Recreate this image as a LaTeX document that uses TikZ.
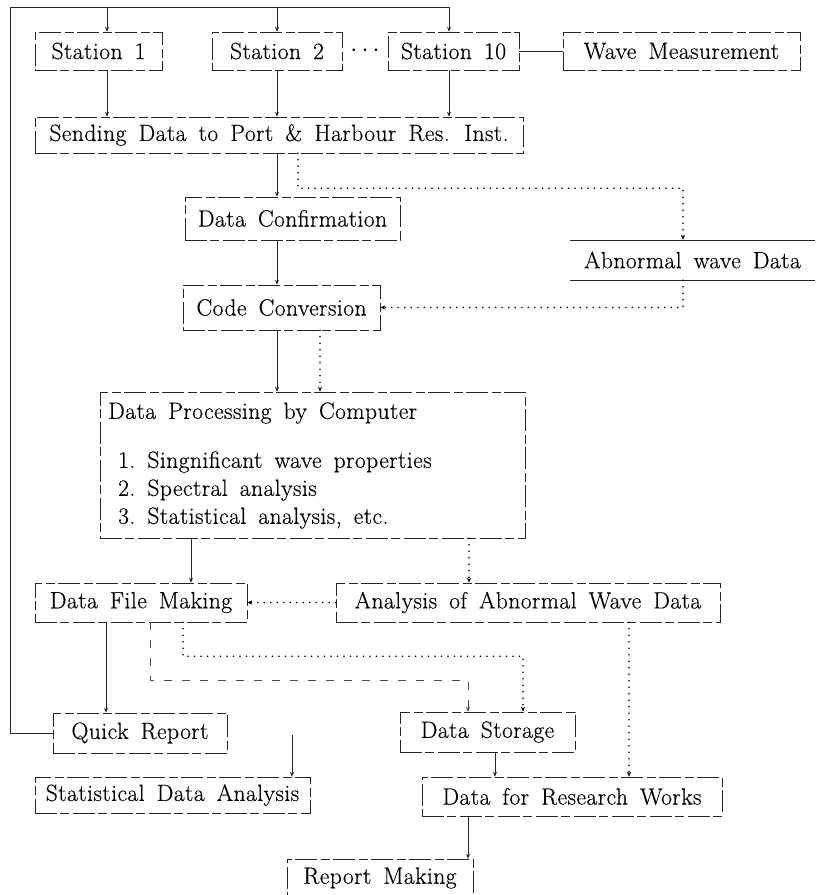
\documentclass[tikz,border=0pt]{standalone}
\usepackage{fontspec}
\setmainfont{Latin Modern Roman}[WordSpace=1.6, LetterSpace=2, FakeBold=0.4]
\usetikzlibrary{arrows.meta,calc}

\begin{document}
\begin{tikzpicture}[x=1pt,y=-1pt,
  txt/.style={font=\fontsize{23.5}{27}\selectfont, inner sep=0pt},
  box/.style={txt, draw=black!85, line width=0.6pt,
    dash pattern=on 22pt off 3pt on 9pt off 4pt},
  edge/.style={draw=black!85, line width=0.6pt},
  arr/.style={edge, -{Stealth[length=5pt,width=4pt]}},
  dotl/.style={draw=black, line width=1.7pt, line cap=round,
    dash pattern=on 0pt off 6.5pt},
  dotarr/.style={dotl, -{Stealth[length=5pt,width=4pt,line width=0.4pt]}},
  dashl/.style={draw=black!70, line width=0.6pt, dash pattern=on 8pt off 10pt},
  dasharr/.style={dashl, -{Stealth[length=5pt,width=4pt]}}]
\useasboundingbox (0,0) rectangle (815,895);

% stations and wave measurement
\node[box, minimum width=127pt, minimum height=38pt] (s1) at (98.5,51) {Station 1};
\node[box, minimum width=130pt, minimum height=38pt] (s2) at (277,51) {Station 2};
\node[txt] (dots) at (365,51) {$\cdots$};
\node[box, minimum width=131pt, minimum height=38pt] (s10) at (453.5,51) {Station 10};
\node[box, minimum width=237pt, minimum height=38pt] (wave) at (681.5,51) {Wave Measurement};

% transmission and checking
\node[box, minimum width=488pt, minimum height=36pt] (send) at (279,135) {Sending Data to Port \& Harbour Res. Inst.};
\node[box, minimum width=215pt, minimum height=43pt] (conf) at (292.5,218.5) {Data Confirmation};
\node[txt, minimum width=245pt, minimum height=40pt] (abn) at (692.5,260) {Abnormal wave Data};
\draw[edge] (abn.north west) -- (abn.north east);
\draw[edge] (abn.south west) -- (abn.south east);
\node[box, minimum width=197pt, minimum height=45pt] (code) at (281.5,307.5) {Code Conversion};

% computer processing
\node[box, minimum width=425pt, minimum height=146pt] (dp) at (312.5,465) {};
\node[txt, anchor=west] (dpt) at (108,413) {Data Processing by Computer};
\node[txt, anchor=west] (it1) at (118,462) {1.~Singnificant wave properties};
\node[txt, anchor=west] (it2) at (118,490) {2.~Spectral analysis};
\node[txt, anchor=west] (it3) at (118,518) {3.~Statistical analysis, etc.};

% filing and analysis
\node[box, minimum width=212pt, minimum height=39pt] (dfm) at (141,602.5) {Data File Making};
\node[box, minimum width=384pt, minimum height=39pt] (aaw) at (528,602.5) {Analysis of Abnormal Wave Data};
\node[box, minimum width=174pt, minimum height=40pt] (qr) at (140,733) {Quick Report};
\node[box, minimum width=175pt, minimum height=40pt] (ds) at (487.5,732) {Data Storage};
\node[box, minimum width=275pt, minimum height=36pt] (sda) at (172.5,795) {Statistical Data Analysis};
\node[box, minimum width=300pt, minimum height=39pt] (drw) at (572,796.5) {Data for Research Works};
\node[box, minimum width=186pt, minimum height=38pt] (rm) at (380,878) {Report Making};

% distribution line along the top
\coordinate (t0) at (10,7);
\coordinate (t1) at (107,7);
\coordinate (t2) at (277,7);
\coordinate (t3) at (449,7);
\draw[edge] (qr.west) -| (t0) -- (t3);
\draw[arr] (t1) -- (t1 |- s1.north);
\draw[arr] (t2) -- (t2 |- s2.north);
\draw[arr] (t3) -- (t3 |- s10.north);
\draw[edge] (s10.east) -- (wave.west);

% stations to sending
\draw[arr] ([xshift=8.5pt]s1.south) -- ([xshift=8.5pt]s1.south |- send.north);
\draw[arr] (s2.south) -- (s2.south |- send.north);
\draw[arr] ([xshift=-4.5pt]s10.south) -- ([xshift=-4.5pt]s10.south |- send.north);

% sending to confirmation, abnormal data branch
\draw[arr] ([xshift=-2pt]send.south) -- ([xshift=-2pt]send.south |- conf.north);
\draw[dotarr] ([xshift=19pt]send.south) -- ++(0,35) -| ([xshift=-9.5pt]abn.north);
\draw[dotarr] ([xshift=-9.5pt]abn.south) |- (code.east);
\draw[arr] ([xshift=-15.5pt]conf.south) -- ([xshift=-15.5pt]conf.south |- code.north);

% conversion to processing
\draw[arr] ([xshift=-4.5pt]code.south) -- ([xshift=-4.5pt]code.south |- dp.north);
\draw[dotarr] ([xshift=38.5pt]code.south) -- ([xshift=38.5pt]code.south |- dp.north);

% processing to filing and analysis
\draw[arr] ([xshift=-121.5pt]dp.south) -- ([xshift=-121.5pt]dp.south |- dfm.north);
\draw[dotarr] ([xshift=156.5pt]dp.south) -- ([xshift=156.5pt]dp.south |- aaw.north);
\draw[dotarr] (aaw.west) -- (dfm.east);

% filing outputs
\draw[arr] ([xshift=-35pt]dfm.south) -- ([xshift=-35pt]dfm.south |- qr.north);
\draw[dasharr] ([xshift=9pt]dfm.south) -- ++(0,58) -| ([xshift=-19.5pt]ds.north);
\draw[dotarr] ([xshift=42pt]dfm.south) -- ++(0,34) -| ([xshift=35.5pt]ds.north);
\coordinate (sx) at (292,735);
\draw[arr] (sx) -- (sx |- sda.north);

% research data and reporting
\draw[arr] ([xshift=7.5pt]ds.south) -- ([xshift=7.5pt]ds.south |- drw.north);
\draw[dotarr] ([xshift=101pt]aaw.south) -- ([xshift=101pt]aaw.south |- drw.north);
\draw[arr] ([xshift=-104pt]drw.south) -- ([xshift=-104pt]drw.south |- rm.north);
\end{tikzpicture}
\end{document}
